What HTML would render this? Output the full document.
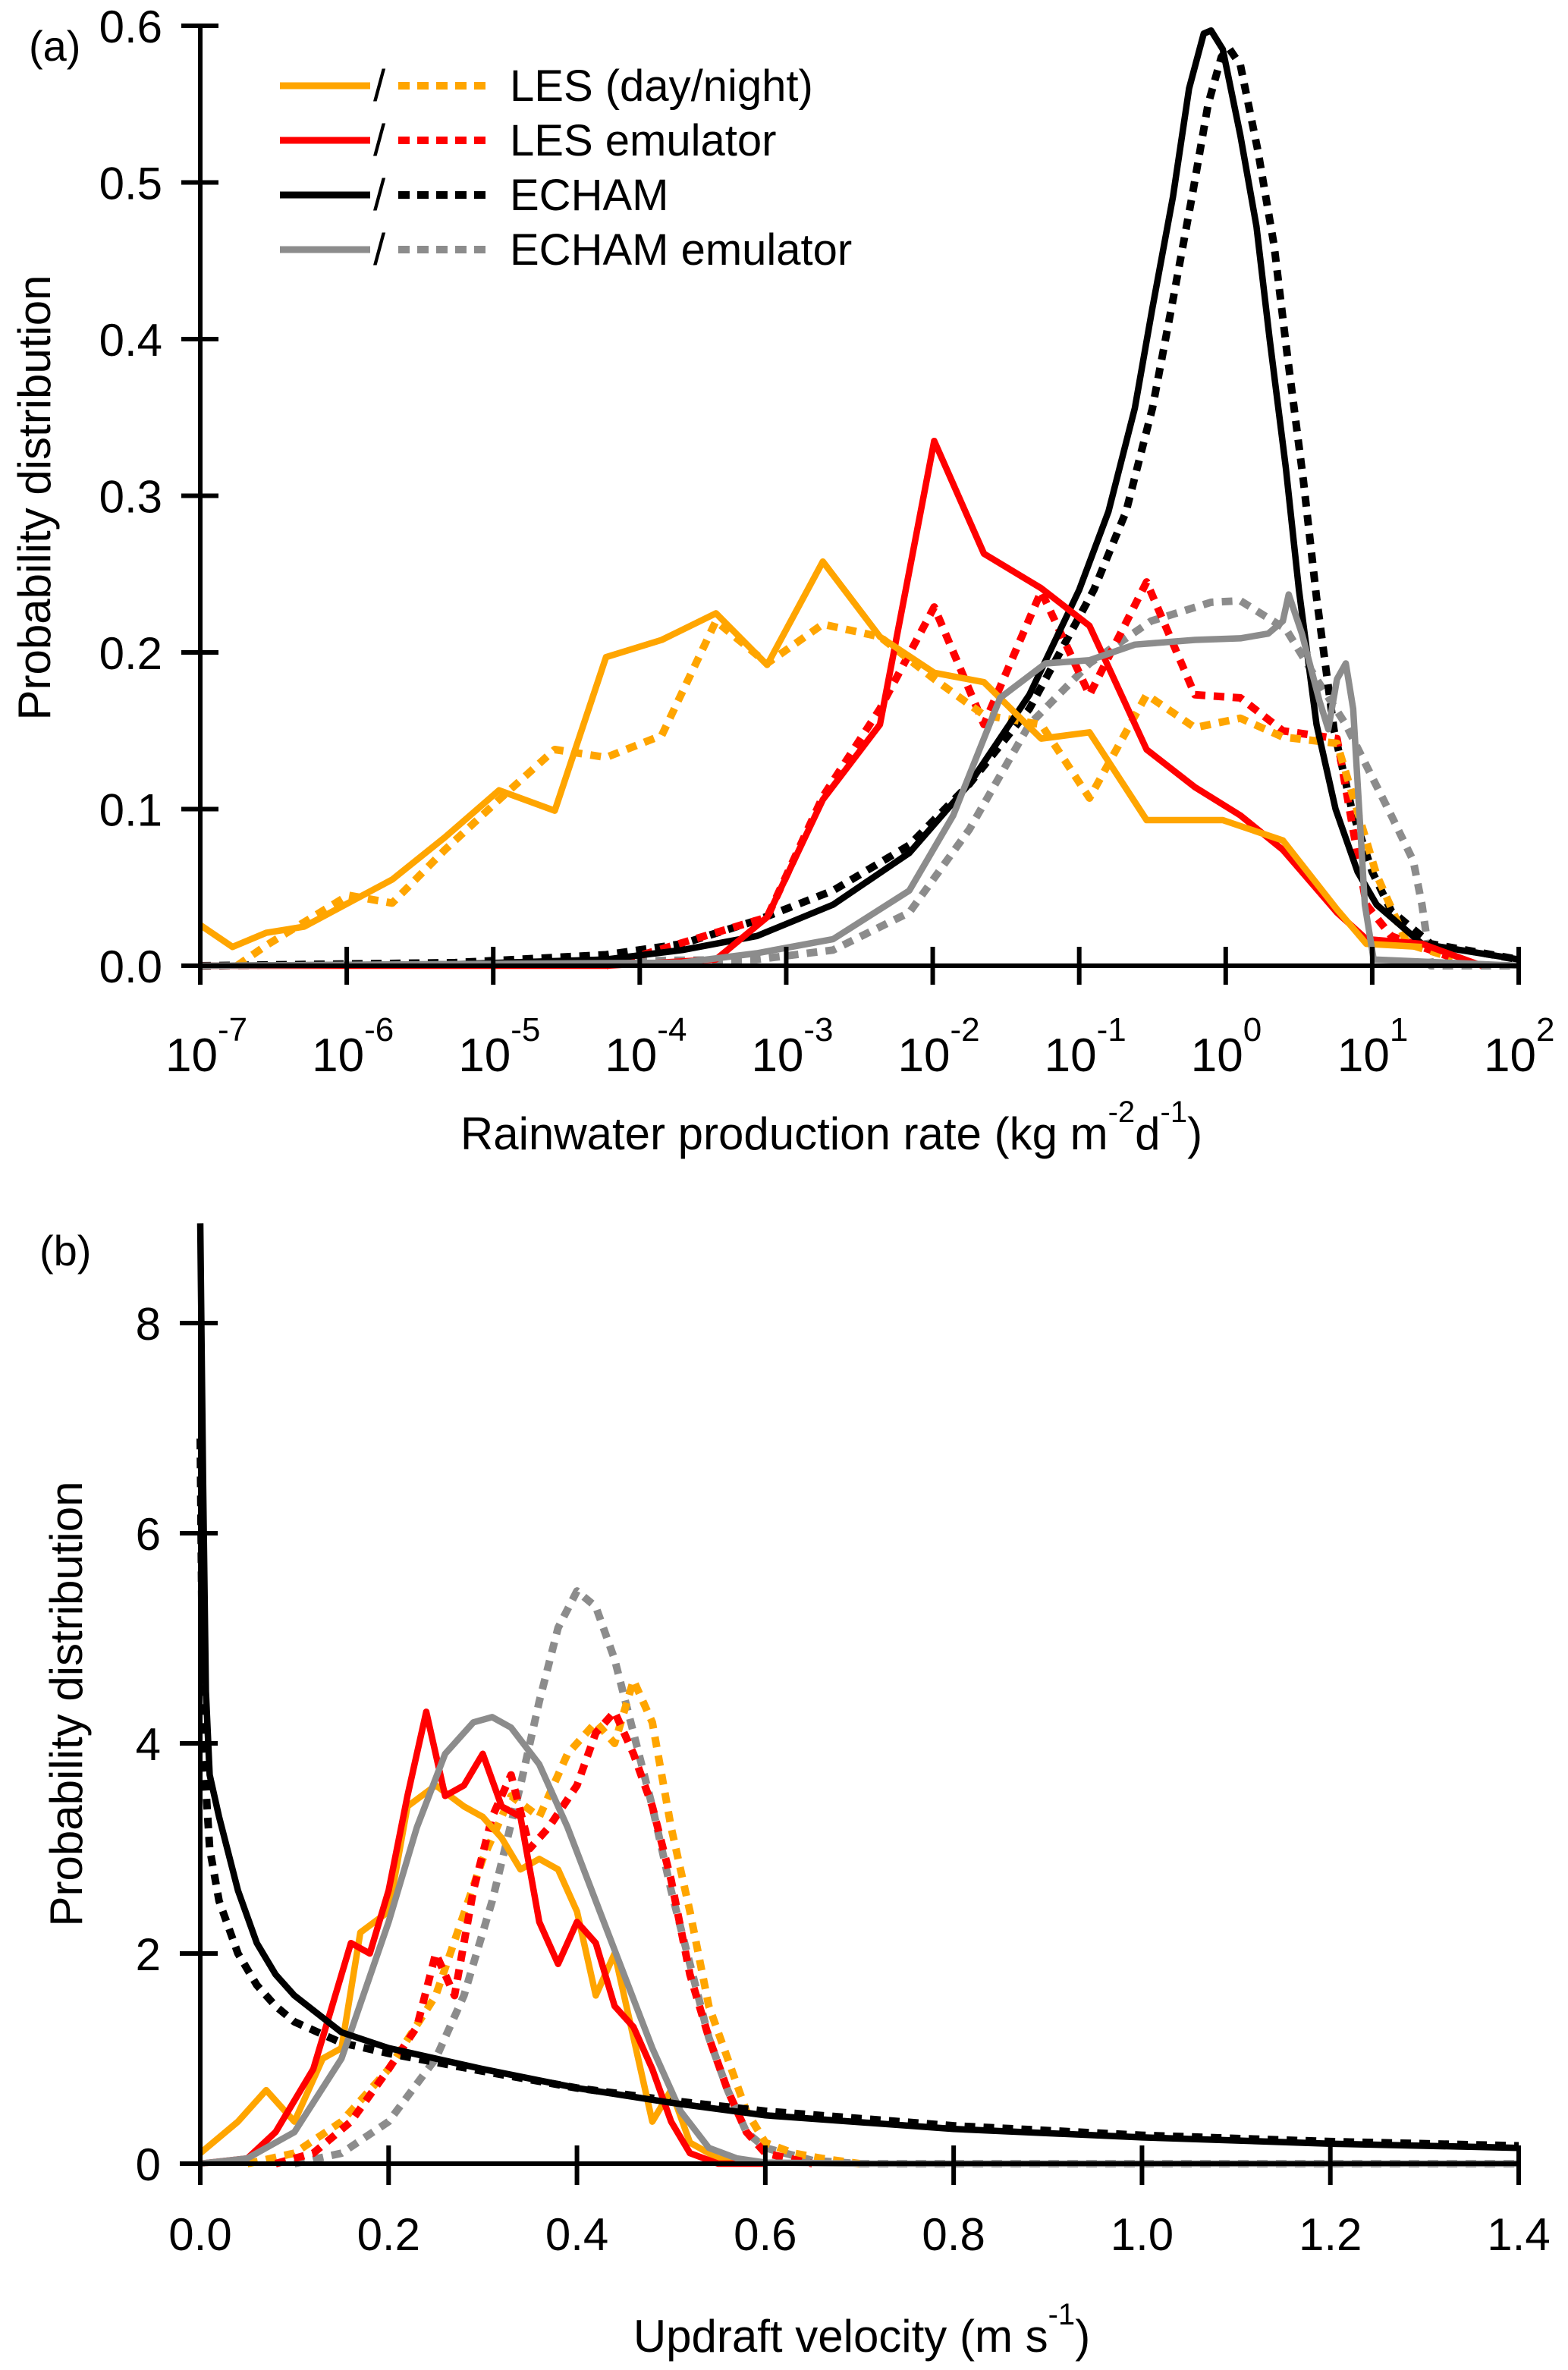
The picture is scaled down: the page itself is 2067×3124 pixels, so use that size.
<!DOCTYPE html>
<html><head><meta charset="utf-8"><style>
html,body{margin:0;padding:0;background:#fff;}
svg{display:block;font-family:"Liberation Sans",Arial,sans-serif;}
</style></head><body>
<svg id="fig" width="2067" height="3124" viewBox="0 0 2067 3124">
<g id="pa"></g>
<g id="pb"></g>
</svg>
<script>
// ---------- Panel (a) data: x as log10 exponent ----------
const aXTicks = [-7,-6,-5,-4,-3,-2,-1,0,1,2];
const aYTicks = [0.0,0.1,0.2,0.3,0.4,0.5,0.6];
const aLesDayX = [-7,-6.78,-6.55,-6.29,-5.99,-5.69,-5.33,-4.96,-4.58,-4.23,-3.85,-3.48,-3.13,-2.75,-2.36,-1.99,-1.65,-1.26,-0.93,-0.54,-0.02,0.39,0.76,0.96,1.34];
const aLesDayY = [.026,.012,.021,.025,.040,.055,.082,.112,.099,.197,.208,.225,.192,.258,.210,.187,.181,.145,.149,.093,.093,.080,.036,.014,.012];
const aLesNightX = [-6.75,-6.55,-5.99,-5.69,-5.33,-4.96,-4.58,-4.23,-3.85,-3.48,-3.13,-2.75,-2.36,-1.99,-1.65,-1.26,-0.93,-0.54,-0.21,0.10,0.39,0.76,1.03,1.24,1.55];
const aLesNightY = [0,.013,.045,.040,.074,.106,.138,.133,.147,.220,.193,.218,.210,.183,.160,.154,.107,.173,.152,.158,.146,.142,.058,.014,.005];
const aEmuX = [-7,-4.23,-3.48,-3.13,-2.75,-2.36,-1.99,-1.65,-1.26,-0.93,-0.54,-0.21,0.10,0.39,0.76,0.96,1.34,1.75];
const aEmuY = [0,0,.004,.031,.106,.154,.335,.263,.241,.217,.138,.114,.096,.074,.034,.017,.014,0];
const aEmuNX = [-4.23,-3.13,-2.75,-2.36,-1.99,-1.65,-1.26,-0.93,-0.54,-0.21,0.10,0.39,0.76,0.96,1.13,1.55];
const aEmuNY = [0,.031,.108,.164,.229,.154,.239,.173,.245,.173,.171,.150,.145,.039,.019,.005];
const aEchamX = [-7,-5.26,-4.23,-3.71,-3.20,-2.68,-2.16,-1.75,-1.34,-1.0,-0.8,-0.62,-0.5,-0.36,-0.25,-0.15,-0.1,-0.02,0.1,0.21,0.3,0.41,0.5,0.62,0.75,0.9,1.03,1.34,2.0];
const aEchamY = [0,.001,.004,.010,.019,.039,.072,.116,.173,.24,.29,.356,.42,.491,.56,.595,.597,.585,.53,.472,.40,.318,.24,.154,.10,.06,.039,.014,.004];
const aEchamNX = [-7,-5.26,-4.23,-3.71,-3.20,-2.68,-2.16,-1.75,-1.34,-0.9,-0.68,-0.5,-0.37,-0.23,-0.12,-0.03,0.02,0.1,0.22,0.33,0.42,0.53,0.62,0.74,0.86,1.0,1.13,1.4,2.0];
const aEchamNY = [0,.002,.007,.014,.029,.048,.077,.116,.164,.24,.29,.356,.42,.491,.55,.58,.586,.575,.52,.46,.39,.31,.235,.15,.10,.06,.035,.014,.004];
const aEEmuX = [-7,-3.71,-3.20,-2.68,-2.16,-1.86,-1.54,-1.23,-0.93,-0.62,-0.21,0.10,0.29,0.39,0.43,0.52,0.64,0.70,0.76,0.82,0.87,0.95,1.01,2.0];
const aEEmuY = [0,.002,.008,.017,.048,.096,.171,.193,.195,.205,.208,.209,.212,.220,.237,.212,.169,.151,.183,.193,.164,.039,.004,0];
const aEEmuNX = [-7,-3.20,-2.68,-2.16,-1.75,-1.34,-0.93,-0.51,-0.10,0.10,0.41,0.62,0.82,1.13,1.28,1.34,1.40,2.0];
const aEEmuNY = [0,.004,.010,.034,.087,.154,.193,.22,.232,.233,.215,.183,.154,.096,.067,.039,0,0];

// ---------- Panel (b) data ----------
const bXTicks = [0.0,0.2,0.4,0.6,0.8,1.0,1.2,1.4];
const bYTicks = [0,2,4,6,8];
const bLesDayX = [0,0.04,0.07,0.1,0.13,0.15,0.17,0.2,0.22,0.25,0.28,0.3,0.32,0.34,0.36,0.38,0.4,0.42,0.44,0.46,0.48,0.5,0.52,0.55,0.6];
const bLesDayY = [0.1,0.4,0.7,0.4,1.0,1.1,2.2,2.4,3.4,3.6,3.4,3.3,3.1,2.8,2.9,2.8,2.4,1.6,2.0,1.2,0.4,0.7,0.2,0.05,0];
const bLesNightX = [0.05,0.1,0.15,0.2,0.25,0.3,0.33,0.36,0.39,0.42,0.44,0.46,0.48,0.5,0.52,0.54,0.56,0.58,0.6,0.63,0.66,0.7];
const bLesNightY = [0,0.1,0.4,0.9,1.6,2.9,3.5,3.3,3.9,4.2,4.0,4.6,4.2,3.2,2.4,1.5,1.0,0.5,0.2,0.1,0.05,0];
const bEmuX = [0,0.05,0.08,0.1,0.12,0.14,0.16,0.18,0.2,0.22,0.24,0.26,0.28,0.3,0.32,0.34,0.36,0.38,0.4,0.42,0.44,0.46,0.48,0.5,0.52,0.55,0.6];
const bEmuY = [0,0.05,0.3,0.6,0.9,1.5,2.1,2.0,2.6,3.5,4.3,3.5,3.6,3.9,3.4,3.3,2.3,1.9,2.3,2.1,1.5,1.3,0.9,0.4,0.1,0,0];
const bEmuNX = [0.08,0.12,0.16,0.2,0.23,0.25,0.27,0.29,0.31,0.33,0.35,0.37,0.4,0.42,0.44,0.46,0.48,0.5,0.52,0.54,0.56,0.58,0.6,0.65];
const bEmuNY = [0,0.1,0.4,0.9,1.3,2.0,1.6,2.6,3.3,3.7,3.0,3.2,3.6,4.1,4.3,3.9,3.4,2.7,1.8,1.2,0.7,0.3,0.1,0];
const bEchamX = [0,0.003,0.006,0.01,0.02,0.04,0.06,0.08,0.1,0.15,0.2,0.3,0.4,0.5,0.6,0.8,1.0,1.2,1.4];
const bEchamY = [8.95,6.5,4.5,3.7,3.3,2.6,2.1,1.8,1.6,1.25,1.1,0.9,0.72,0.58,0.46,0.33,0.25,0.19,0.15];
const bEchamNX = [0,0.003,0.01,0.02,0.04,0.06,0.08,0.1,0.15,0.2,0.3,0.4,0.5,0.6,0.8,1.0,1.2,1.4];
const bEchamNY = [6.9,4.0,3.0,2.5,2.0,1.7,1.5,1.35,1.15,1.05,0.88,0.72,0.6,0.5,0.36,0.27,0.21,0.17];
const bEEmuX = [0,0.05,0.1,0.15,0.2,0.23,0.26,0.29,0.31,0.33,0.36,0.39,0.42,0.45,0.48,0.51,0.54,0.57,0.6,0.7,1.4];
const bEEmuY = [0,0.05,0.3,1.0,2.3,3.2,3.9,4.2,4.25,4.15,3.8,3.2,2.5,1.8,1.1,0.5,0.15,0.05,0.01,0,0];
const bEEmuNX = [0.1,0.15,0.2,0.25,0.28,0.31,0.34,0.36,0.38,0.4,0.42,0.44,0.46,0.48,0.5,0.52,0.54,0.56,0.58,0.6,0.65,0.7,1.4];
const bEEmuNY = [0,0.1,0.4,1.0,1.6,2.5,3.6,4.4,5.1,5.45,5.3,4.8,4.1,3.4,2.6,1.9,1.2,0.7,0.3,0.15,0.03,0,0];

const NS = "http://www.w3.org/2000/svg";
const ORANGE = "#ffa500", RED = "#ff0000", BLACK = "#000000", GRAY = "#8c8c8c";
const X0 = 264, X1 = 2002;

function mk(parent, tag, attrs) {
  const e = document.createElementNS(NS, tag);
  for (const k in attrs) e.setAttribute(k, attrs[k]);
  parent.appendChild(e);
  return e;
}

const axA = { x: v => X0 + (v - (-7)) / 9 * (X1 - X0), y: v => 1273 - v / 0.6 * (1273 - 34) };
const axB = { x: v => X0 + v / 1.4 * (X1 - X0), y: v => 2852 - v / 8 * (2852 - 1744) };

function series(g, ax, xs, ys, color, dotted, name) {
  const d = xs.map((x, i) => (i ? "L" : "M") + ax.x(x).toFixed(1) + " " + ax.y(ys[i]).toFixed(1)).join(" ");
  const p = mk(g, "path", { d: d, fill: "none", stroke: color, "stroke-width": dotted ? 10 : 8.5, "stroke-linejoin": "round" });
  if (dotted) p.setAttribute("stroke-dasharray", "14 11");
  
  
}

// ---------- Panel a ----------
const ga = document.getElementById("pa");
series(ga, axA, aEEmuNX, aEEmuNY, GRAY, true, "echam-emulator-night-line");
series(ga, axA, aEchamNX, aEchamNY, BLACK, true, "echam-night-line");
series(ga, axA, aEmuNX, aEmuNY, RED, true, "les-emulator-night-line");
series(ga, axA, aLesNightX, aLesNightY, ORANGE, true, "les-night-line");
series(ga, axA, aEchamX, aEchamY, BLACK, false, "echam-day-line");
series(ga, axA, aEmuX, aEmuY, RED, false, "les-emulator-day-line");
series(ga, axA, aLesDayX, aLesDayY, ORANGE, false, "les-day-line");
series(ga, axA, aEEmuX, aEEmuY, GRAY, false, "echam-emulator-day-line");

let ln = mk(ga, "line", { x1: X0, y1: 34, x2: X0, y2: 1273, stroke: "#000", "stroke-width": 6 });
 
ln = mk(ga, "line", { x1: 240, y1: 1273, x2: X1, y2: 1273, stroke: "#000", "stroke-width": 6 });
 
aYTicks.forEach(v => {
  const t = mk(ga, "line", { x1: 239, y1: axA.y(v), x2: 288, y2: axA.y(v), stroke: "#000", "stroke-width": 6 });
   
  const tx = mk(ga, "text", { x: 214, y: axA.y(v) + 22, "font-size": 60, "text-anchor": "end" });
  tx.textContent = v.toFixed(1);
   
});
aXTicks.forEach(v => {
  const x = axA.x(v);
  const t = mk(ga, "line", { x1: x, y1: 1248, x2: x, y2: 1298, stroke: "#000", "stroke-width": 6 });
   
  const tx = mk(ga, "text", { x: x - 46, y: 1412, "font-size": 62 });
  tx.textContent = "10";
   
  const sp = mk(tx, "tspan", { dy: -40, "font-size": 44 });
  sp.textContent = String(v);
});

// ---------- Panel b ----------
const gb = document.getElementById("pb");
series(gb, axB, bEEmuNX, bEEmuNY, GRAY, true, "echam-emulator-night-line-b");
series(gb, axB, bLesNightX, bLesNightY, ORANGE, true, "les-night-line-b");
series(gb, axB, bEmuNX, bEmuNY, RED, true, "les-emulator-night-line-b");
series(gb, axB, bEchamNX, bEchamNY, BLACK, true, "echam-night-line-b");
series(gb, axB, bLesDayX, bLesDayY, ORANGE, false, "les-day-line-b");
series(gb, axB, bEmuX, bEmuY, RED, false, "les-emulator-day-line-b");
series(gb, axB, bEEmuX, bEEmuY, GRAY, false, "echam-emulator-day-line-b");
series(gb, axB, bEchamX, bEchamY, BLACK, false, "echam-day-line-b");

ln = mk(gb, "line", { x1: X0, y1: 1620, x2: X0, y2: 2852, stroke: "#000", "stroke-width": 6 });
 
ln = mk(gb, "line", { x1: 240, y1: 2852, x2: X1, y2: 2852, stroke: "#000", "stroke-width": 6 });
 
bYTicks.forEach(v => {
  const t = mk(gb, "line", { x1: 237, y1: axB.y(v), x2: 287, y2: axB.y(v), stroke: "#000", "stroke-width": 6 });
   
  const tx = mk(gb, "text", { x: 212, y: axB.y(v) + 22, "font-size": 60, "text-anchor": "end" });
  tx.textContent = String(v);
   
});
bXTicks.forEach(v => {
  const x = axB.x(v);
  const t = mk(gb, "line", { x1: x, y1: 2828, x2: x, y2: 2880, stroke: "#000", "stroke-width": 6 });
   
  const tx = mk(gb, "text", { x: x, y: 2966, "font-size": 60, "text-anchor": "middle" });
  tx.textContent = v.toFixed(1);
   
});
</script>
<svg style="position:absolute;left:0;top:0" width="2067" height="3124">
  <g font-family="Liberation Sans, Arial, sans-serif" fill="#000">
    <text x="38" y="80" font-size="56">(a)</text>
    <text x="52" y="1668" font-size="56">(b)</text>
    <text transform="translate(66,656) rotate(-90)" text-anchor="middle" font-size="60">Probability distribution</text>
    <text transform="translate(108,2246) rotate(-90)" text-anchor="middle" font-size="60">Probability distribution</text>
    <text x="1096" y="1515" text-anchor="middle" font-size="60">Rainwater production rate (kg m<tspan dy="-36" font-size="40">-2</tspan><tspan dy="36">d</tspan><tspan dy="-36" font-size="40">-1</tspan><tspan dy="36">)</tspan></text>
    <text x="1136" y="3100" text-anchor="middle" font-size="60">Updraft velocity (m s<tspan dy="-36" font-size="40">-1</tspan><tspan dy="36">)</tspan></text>
    <g>
      <g>
        <line x1="369" y1="113" x2="488" y2="113" stroke="#ffa500" stroke-width="9"/>
        <line x1="525" y1="113" x2="641" y2="113" stroke="#ffa500" stroke-width="10" stroke-dasharray="15 10"/>
        <text x="492" y="133" font-size="58">/</text>
        <text x="672" y="133" font-size="58">LES (day/night)</text>
      </g>
      <g>
        <line x1="369" y1="185" x2="488" y2="185" stroke="#ff0000" stroke-width="9"/>
        <line x1="525" y1="185" x2="641" y2="185" stroke="#ff0000" stroke-width="10" stroke-dasharray="15 10"/>
        <text x="492" y="205" font-size="58">/</text>
        <text x="672" y="205" font-size="58">LES emulator</text>
      </g>
      <g>
        <line x1="369" y1="257" x2="488" y2="257" stroke="#000" stroke-width="9"/>
        <line x1="525" y1="257" x2="641" y2="257" stroke="#000" stroke-width="10" stroke-dasharray="15 10"/>
        <text x="492" y="277" font-size="58">/</text>
        <text x="672" y="277" font-size="58">ECHAM</text>
      </g>
      <g>
        <line x1="369" y1="329" x2="488" y2="329" stroke="#8c8c8c" stroke-width="9"/>
        <line x1="525" y1="329" x2="641" y2="329" stroke="#8c8c8c" stroke-width="10" stroke-dasharray="15 10"/>
        <text x="492" y="349" font-size="58">/</text>
        <text x="672" y="349" font-size="58">ECHAM emulator</text>
      </g>
    </g>
  </g>
</svg>
</body></html>
